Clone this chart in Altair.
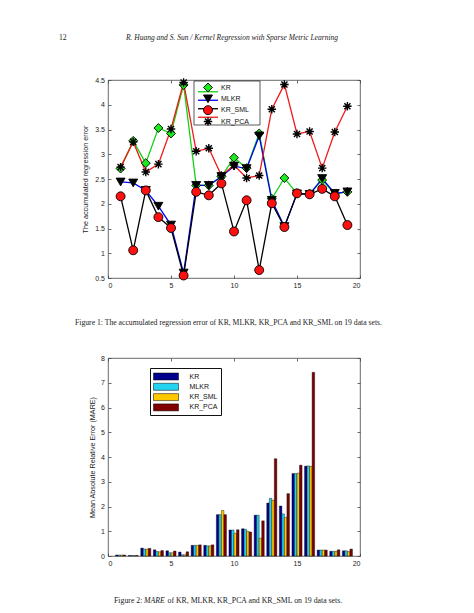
import altair as alt
import pandas as pd

# ---------------- data ----------------
idx = list(range(1, 20))
series = ["KR", "MLKR", "KR_SML", "KR_PCA"]

# Figure 1: accumulated regression error
err_kr = [2.71, 3.27, 2.82, 3.53, 3.42, 4.40, 2.37, 2.37, 2.55, 2.93, 2.72, 3.42, 2.10, 2.52, 2.21, 2.20, 2.48, 2.20, 2.24]
err_mlkr = [2.44, 2.42, 2.27, 1.95, 1.57, 0.60, 2.37, 2.37, 2.55, 2.76, 2.71, 3.37, 2.07, 1.54, 2.20, 2.19, 2.51, 2.21, 2.24]
err_sml = [2.15, 1.06, 2.27, 1.73, 1.51, 0.55, 2.24, 2.17, 2.41, 1.44, 2.07, 0.66, 2.01, 1.53, 2.21, 2.19, 2.30, 2.15, 1.57]
err_pca = [2.74, 3.25, 2.64, 2.80, 3.51, 4.45, 3.06, 3.12, 2.57, 2.78, 2.52, 2.57, 3.91, 4.41, 3.41, 3.46, 2.72, 3.45, 3.97]

# Figure 2: MARE
mare_kr = [0.04, 0.02, 0.32, 0.25, 0.21, 0.16, 0.43, 0.43, 1.67, 1.05, 1.10, 1.65, 2.14, 2.02, 3.33, 3.63, 0.24, 0.19, 0.21]
mare_mlkr = [0.04, 0.02, 0.28, 0.18, 0.13, 0.05, 0.43, 0.41, 1.67, 1.05, 1.08, 1.65, 2.33, 1.70, 3.33, 3.64, 0.24, 0.19, 0.21]
mare_sml = [0.04, 0.02, 0.28, 0.17, 0.13, 0.05, 0.43, 0.41, 1.84, 0.92, 1.00, 0.72, 2.25, 1.56, 3.35, 3.62, 0.24, 0.19, 0.18]
mare_pca = [0.04, 0.02, 0.31, 0.22, 0.20, 0.17, 0.45, 0.45, 1.67, 1.06, 0.97, 1.42, 3.93, 2.52, 3.67, 7.42, 0.24, 0.25, 0.28]

x_ticks = [0, 5, 10, 15, 20]
y1_ticks = [0.5, 1, 1.5, 2, 2.5, 3, 3.5, 4, 4.5]
y2_ticks = [0, 1, 2, 3, 4, 5, 6, 7, 8]

page_no = "12"
header_text = "R. Huang and S. Sun / Kernel Regression with Sparse Metric Learning"
caption1 = "Figure 1: The accumulated regression error of KR, MLKR, KR_PCA and KR_SML on 19 data sets."
caption2_a = "Figure 2:"
caption2_b = "MARE"
caption2_c = "of KR, MLKR, KR_PCA and KR_SML on 19 data sets."
y1_title = "The accumulated regression error"
y2_title = "Mean Absolute Relative Error (MARE)"

# ---------------- styles ----------------
W, H = 252, 198
SANS = "Liberation Sans"
SERIF = "Liberation Serif"
line_colors = ["#14d214", "#0000f0", "#000000", "#f01818"]
marker_fills = ["#1ee81e", "#000000", "#ff1010", "#000000"]
marker_edges = ["#000000", "#000000", "#000000", "#000000"]
STAR = "M0,-1V1M-1,0H1M-0.72,-0.72L0.72,0.72M-0.72,0.72L0.72,-0.72"
marker_shapes = ["diamond", "triangle-down", "circle", STAR]
bar_colors = ["#00008c", "#22d3f2", "#ffc800", "#800000"]
# wide swatch: 25 x 7 px when drawn at size 100 (unit = 5 px)
BAR_SYM = "M-2.5,-0.7H2.5V0.7H-2.5Z"

line_df = pd.DataFrame({
    "idx": idx * 4,
    "series": [s for s in series for _ in idx],
    "value": err_kr + err_mlkr + err_sml + err_pca,
})
bar_df = pd.DataFrame({
    "idx": idx * 4,
    "method": [s for s in series for _ in idx],
    "k": [k for k in range(len(series)) for _ in idx],
    "value": mare_kr + mare_mlkr + mare_sml + mare_pca,
})
legend_df = pd.DataFrame({"series": series})
one = pd.DataFrame({"a": [0]})

xs = alt.Scale(domain=[0, 20], nice=False, zero=False)
y1s = alt.Scale(domain=[0.5, 4.5], nice=False, zero=False)
y2s = alt.Scale(domain=[0, 8], nice=False)


def frame_axes(df, xf, yf, yscale, yvals, ytitle, ypad, yfmt):
    """Invisible layers that carry the axes: labels outside, ticks inward on all sides."""
    common = dict(grid=False, domain=False, minExtent=0)
    main = alt.Chart(df).mark_point(opacity=0).encode(
        x=alt.X(xf, scale=xs, axis=alt.Axis(orient="bottom", values=x_ticks, tickSize=0,
                                            labelPadding=3.5, title=None, **common)),
        y=alt.Y(yf, scale=yscale, axis=alt.Axis(orient="left", values=yvals, tickSize=0, format=yfmt,
                                                labelPadding=3.5, title=ytitle, titlePadding=ypad,
                                                **common)),
    )
    tin1 = alt.Chart(df).mark_point(opacity=0).encode(
        x=alt.X(xf, scale=xs, axis=alt.Axis(orient="top", offset=-H, values=x_ticks, tickSize=3,
                                            labels=False, title=None, **common)),
        y=alt.Y(yf, scale=yscale, axis=alt.Axis(orient="right", offset=-W, values=yvals, tickSize=3,
                                                labels=False, title=None, **common)),
    )
    tin2 = alt.Chart(df).mark_point(opacity=0).encode(
        x=alt.X(xf, scale=xs, axis=alt.Axis(orient="bottom", offset=-H, values=x_ticks, tickSize=3,
                                            labels=False, title=None, **common)),
        y=alt.Y(yf, scale=yscale, axis=alt.Axis(orient="left", offset=-W, values=yvals, tickSize=3,
                                                labels=False, title=None, **common)),
    )
    return [main, tin1, tin2]


def text_layer(s, x, y, **kw):
    return alt.Chart(pd.DataFrame({"t": [s]})).mark_text(baseline="middle", color="#222", **kw).encode(
        x=alt.value(x), y=alt.value(y), text="t:N")


# ---------------- Figure 1 ----------------
col_line = alt.Color("series:N", scale=alt.Scale(domain=series, range=line_colors), legend=None)
shp = alt.Shape("series:N", scale=alt.Scale(domain=series, range=marker_shapes), legend=None)
fil = alt.Fill("series:N", scale=alt.Scale(domain=series, range=marker_fills), legend=None)
stk = alt.Stroke("series:N", scale=alt.Scale(domain=series, range=marker_edges), legend=None)

lines = alt.Chart(line_df).mark_line(strokeWidth=1.3).encode(
    x=alt.X("idx:Q", scale=xs, axis=None),
    y=alt.Y("value:Q", scale=y1s, axis=None),
    color=col_line,
)
points = alt.Chart(line_df).transform_filter("datum.series != 'KR_PCA'").mark_point(
    filled=True, size=80, strokeWidth=0.9, opacity=1).encode(
    x=alt.X("idx:Q", scale=xs, axis=None),
    y=alt.Y("value:Q", scale=y1s, axis=None),
    shape=shp, fill=fil, stroke=stk,
)
stars = alt.Chart(line_df).transform_filter("datum.series == 'KR_PCA'").mark_point(
    filled=True, size=72, strokeWidth=1.4, opacity=1).encode(
    x=alt.X("idx:Q", scale=xs, axis=None),
    y=alt.Y("value:Q", scale=y1s, axis=None),
    shape=shp, fill=fil, stroke=stk,
)

ly = alt.Y("series:N", scale=alt.Scale(domain=series, range=[7.5, 41.5], padding=0), axis=None)
leg_box = alt.Chart(one).mark_rect(fill="white", stroke="#111", strokeWidth=0.7).encode(
    x=alt.value(86), x2=alt.value(152), y=alt.value(1), y2=alt.value(45))
leg_rule = alt.Chart(legend_df).mark_rule(strokeWidth=1.3).encode(
    x=alt.value(90), x2=alt.value(110), y=ly, color=col_line)
leg_pt = alt.Chart(legend_df).transform_filter("datum.series != 'KR_PCA'").mark_point(
    filled=True, size=80, strokeWidth=0.9, opacity=1).encode(
    x=alt.value(100), y=ly, shape=shp, fill=fil, stroke=stk)
leg_star = alt.Chart(legend_df).transform_filter("datum.series == 'KR_PCA'").mark_point(
    filled=True, size=72, strokeWidth=1.4, opacity=1).encode(
    x=alt.value(100), y=ly, shape=shp, fill=fil, stroke=stk)
leg_txt = alt.Chart(legend_df).mark_text(align="left", baseline="middle", font=SANS, fontSize=7,
                                          color="#111").encode(
    x=alt.value(113), y=ly, text="series:N")

top = alt.layer(
    *frame_axes(line_df, "idx:Q", "value:Q", y1s, y1_ticks, y1_title, 5.5, "~g"),
    lines, points, stars, leg_box, leg_rule, leg_pt, leg_star, leg_txt,
    text_layer(page_no, -49, -42, align="left", font=SERIF, fontSize=7.7),
    text_layer(header_text, 124, -42, align="center", font=SERIF, fontSize=7.5, fontStyle="italic"),
    text_layer(caption1, 120.5, 243, align="center", font=SERIF, fontSize=7.7),
).resolve_scale(y="independent").resolve_axis(x="independent", y="independent").properties(
    width=W, height=H)

# ---------------- Figure 2 ----------------
bars = alt.Chart(bar_df).transform_calculate(
    x0="datum.idx - 0.4 + datum.k * 0.2",
    x1="datum.idx - 0.2 + datum.k * 0.2",
).mark_rect(stroke="#000", strokeWidth=0.4).encode(
    x=alt.X("x0:Q", scale=xs, axis=None),
    x2="x1:Q",
    y=alt.Y("value:Q", scale=y2s, axis=None),
    y2=alt.datum(0),
    fill=alt.Fill("method:N", scale=alt.Scale(domain=series, range=bar_colors),
                  legend=alt.Legend(orient="none", legendX=42, legendY=10, direction="vertical",
                                    title=None, fillColor="white", strokeColor="#111", padding=3,
                                    symbolType=BAR_SYM, symbolSize=100, symbolOffset=7.5,
                                    symbolStrokeColor="#000",
                                    symbolStrokeWidth=0.5, symbolOpacity=1, labelFont=SANS,
                                    labelFontSize=7, labelColor="#111", labelOffset=18,
                                    rowPadding=0.3)),
)

bottom = alt.layer(
    *frame_axes(bar_df, "idx:Q", "value:Q", y2s, y2_ticks, y2_title, 3.9, "d"),
    bars,
    text_layer(caption2_a, 6, 243, align="left", font=SERIF, fontSize=7.8),
    text_layer(caption2_b, 36, 243, align="left", font=SERIF, fontSize=7.8, fontStyle="italic"),
    text_layer(caption2_c, 59.5, 243, align="left", font=SERIF, fontSize=7.8),
).resolve_axis(x="independent", y="independent").properties(width=W, height=H)

chart = alt.vconcat(top, bottom, spacing=80, bounds="flush").resolve_scale(
    color="independent", fill="independent", stroke="independent", shape="independent",
).properties(
    padding={"left": 50, "top": 25, "right": 10, "bottom": 5},
    background="white",
).configure_view(stroke="#444", strokeWidth=0.8).configure_axis(
    labelFont=SANS, labelFontSize=7, labelColor="#222", titleFont=SANS, titleFontSize=7.2,
    titleFontWeight="normal", titleColor="#222", tickColor="#444", tickWidth=0.8,
)

chart.save("out.html", embed_options={"renderer": "svg", "actions": False})
